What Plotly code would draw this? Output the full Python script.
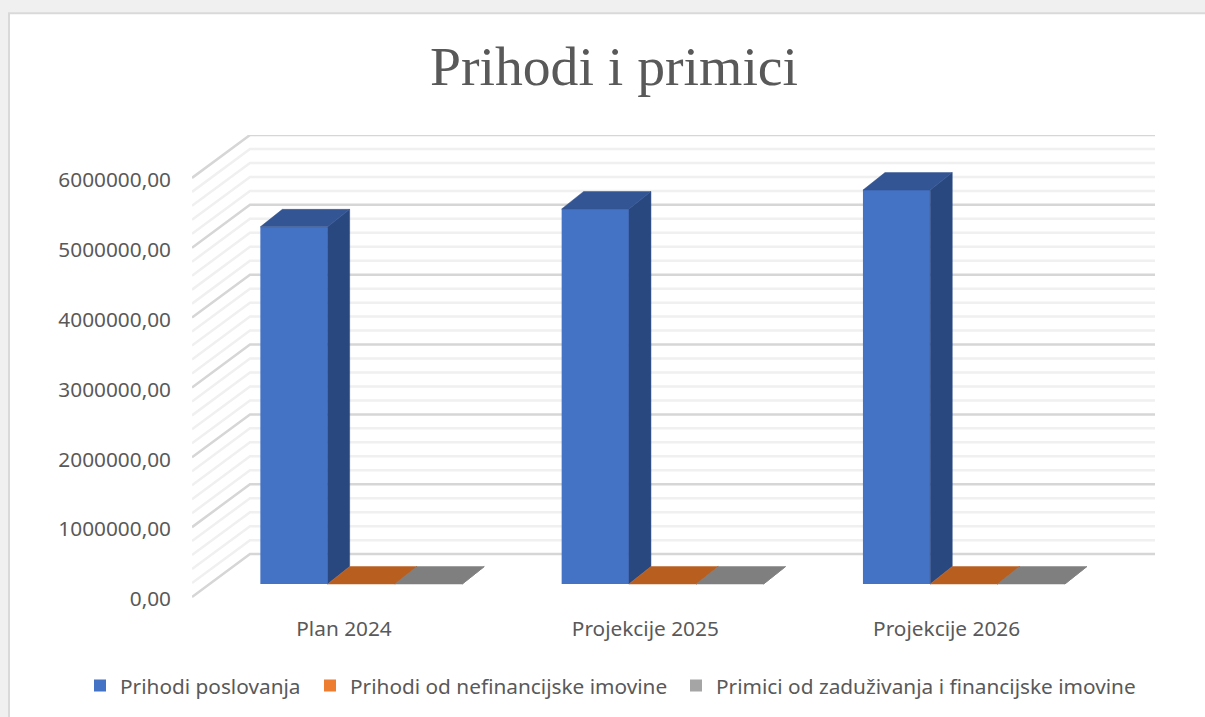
import plotly.graph_objects as go

categories = ["Plan 2024", "Projekcije 2025", "Projekcije 2026"]
prihodi_poslovanja = [5114000, 5370000, 5640000]
prihodi_nefinancijske = [0, 0, 0]
primici_zaduzivanja = [0, 0, 0]
series_names = ["Prihodi poslovanja", "Prihodi od nefinancijske imovine",
                "Primici od zaduživanja i financijske imovine"]
y_ticks = [0, 1000000, 2000000, 3000000, 4000000, 5000000, 6000000]
y_labels = ["0,00", "1000000,00", "2000000,00", "3000000,00", "4000000,00", "5000000,00", "6000000,00"]

W, H = 1205, 717
L, R, T, B = 192, 1155, 135, 600
PX_X = 301.3           # pixels per category
PX_Y = 70 / 1e6        # pixels per unit
XMIN = -(344 - L) / PX_X
XMAX = (R - 344) / PX_X
YMAX = (B - T) / PX_Y

FLOOR = 2 / PX_Y       # wall front edge sits slightly above the label baseline
WALL_DX = 58 / PX_X
WALL_DY = 43 / PX_Y
BAR_W = 67.3 / PX_X
BAR_BASE = 15 / PX_Y
BAR_SHIFT = 17.3 / PX_X
DEPTH_X = 22 / PX_X
DEPTH_Y = 17.5 / PX_Y

FONT = "Noto Sans"
TXT = "#595959"
FS = 20.8

fig = go.Figure()

front = ["#4472C4", "#ED7D31", "#A5A5A5"]
side = ["#2A4880", "#9E5320", "#696969"]
top = ["#335593", "#B85F20", "#7F7F7F"]
values = [prihodi_poslovanja, prihodi_nefinancijske, primici_zaduzivanja]
legend_ids = ["legend", "legend2", "legend3"]
legend_text_px = [120, 350, 716]

for k, vals in enumerate(values):
    xs = [i + BAR_SHIFT + (k - 1) * BAR_W for i in range(len(categories))]
    fig.add_trace(go.Bar(x=xs, y=vals, base=BAR_BASE, width=BAR_W, name=series_names[k],
                         legend=legend_ids[k],
                         marker=dict(color=front[k], line=dict(width=0))))

for k, vals in enumerate(values):
    sx, sy, tx, ty = [], [], [], []
    for i, v in enumerate(vals):
        x0 = i + BAR_SHIFT + (k - 1) * BAR_W - BAR_W / 2
        x1 = x0 + BAR_W
        y0 = BAR_BASE
        y1 = BAR_BASE + v
        sx += [x1, x1 + DEPTH_X, x1 + DEPTH_X, x1, x1, None]
        sy += [y0, y0 + DEPTH_Y, y1 + DEPTH_Y, y1, y0, None]
        tx += [x0, x1, x1 + DEPTH_X, x0 + DEPTH_X, x0, None]
        ty += [y1, y1, y1 + DEPTH_Y, y1 + DEPTH_Y, y1, None]
    fig.add_trace(go.Scatter(x=sx, y=sy, mode="lines", fill="toself", fillcolor=side[k],
                             line=dict(width=0.5, color=side[k]), showlegend=False, hoverinfo="skip"))
    fig.add_trace(go.Scatter(x=tx, y=ty, mode="lines", fill="toself", fillcolor=top[k],
                             line=dict(width=0.5, color=top[k]), showlegend=False, hoverinfo="skip"))

shapes = [
    dict(type="rect", xref="paper", yref="paper", layer="below",
         x0=(9 - L) / (R - L), x1=(W + 20 - L) / (R - L),
         y0=(B - H - 20) / (B - T), y1=(B - 13) / (B - T),
         fillcolor="white", line=dict(color="#D9D9D9", width=2)),
]
for n in range(0, 31):
    v = n * 200000 + FLOOR
    major = n % 5 == 0
    path = f"M {XMIN} {v} L {XMIN + WALL_DX} {v + WALL_DY} L {XMAX} {v + WALL_DY}"
    shapes.append(dict(type="path", path=path, xref="x", yref="y", layer="below",
                       line=dict(color="#D6D6D6" if major else "#F0F0F0", width=2.5)))


def legend_at(text_px):
    return dict(orientation="h", x=(text_px - 40 - L) / (R - L), xanchor="left",
                y=(B - 686) / (B - T), yanchor="middle",
                font=dict(family=FONT, size=FS, color=TXT), bgcolor="rgba(0,0,0,0)")


fig.update_layout(
    width=W, height=H, autosize=False,
    margin=dict(l=L, r=W - R, t=T, b=H - B, pad=0),
    paper_bgcolor="#F0F0F0", plot_bgcolor="rgba(0,0,0,0)",
    barmode="overlay", shapes=shapes, showlegend=True,
    font=dict(family=FONT, size=FS, color=TXT),
    title=dict(text="Prihodi i primici", x=614 / W, xanchor="center", xref="container",
               y=1 - 66 / H, yanchor="middle", yref="container",
               font=dict(family="Liberation Serif", size=55.7, color=TXT)),
    legend=legend_at(legend_text_px[0]),
    legend2=legend_at(legend_text_px[1]),
    legend3=legend_at(legend_text_px[2]),
    xaxis=dict(range=[XMIN, XMAX], tickvals=list(range(len(categories))), ticktext=categories,
               showgrid=False, zeroline=False, showline=False, ticks="", ticklabelstandoff=15, automargin=False),
    yaxis=dict(range=[0, YMAX], tickvals=y_ticks, ticktext=y_labels,
               showgrid=False, zeroline=False, showline=False, ticks="", ticklabelstandoff=20, automargin=False),
)

fig.write_html("out.html", config={"displayModeBar": False},
               post_script="document.body.style.margin='0';document.body.style.overflow='hidden';")
